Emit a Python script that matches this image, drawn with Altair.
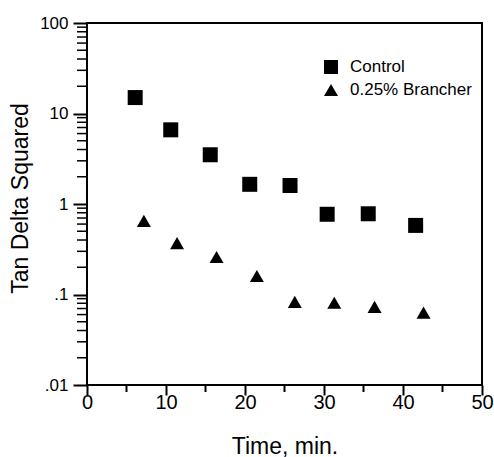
import altair as alt
import pandas as pd

# ---- data ----
series_names = ["Control", "0.25% Brancher"]
series_shapes = ["square", "triangle-up"]
control_time = [6.1, 10.6, 15.6, 20.6, 25.7, 30.4, 35.6, 41.6]
control_val = [15.0, 6.6, 3.5, 1.65, 1.6, 0.77, 0.78, 0.58]
branch_time = [7.2, 11.4, 16.4, 21.5, 26.3, 31.3, 36.4, 42.6]
branch_val = [0.65, 0.37, 0.26, 0.16, 0.083, 0.081, 0.073, 0.063]

x_major = [0, 10, 20, 30, 40, 50]
x_minor = [5, 15, 25, 35, 45]
y_major = [0.01, 0.1, 1, 10, 100]
y_minor = [k * 10.0 ** e for e in (-2, -1, 0, 1) for k in range(2, 10)]

labels = [series_names[0]] * len(control_time) + [series_names[1]] * len(branch_time)
df = pd.DataFrame({
    "time": control_time + branch_time,
    "value": control_val + branch_val,
    "series": labels,
    "marker": labels,
})

FONT = "Liberation Sans"
W, H = 395, 362
xscale = alt.Scale(domain=[0, 50], nice=False, zero=False)
yscale = alt.Scale(type="log", domain=[0.01, 100], nice=False)
shape_scale = alt.Scale(domain=series_names, range=series_shapes)
label_expr_y = "datum.value >= 1 ? format(datum.value, 'd') : (datum.value >= 0.1 ? '.1' : '.01')"

xaxis = alt.Axis(values=x_major, tickSize=10, tickWidth=2, tickColor="black",
                 labelFont=FONT, labelFontSize=20, labelColor="black", labelPadding=-3,
                 labelFlush=False, grid=False, domain=False,
                 title="Time, min.", titleFont=FONT, titleFontSize=23,
                 titleFontWeight="normal", titleColor="black", titlePadding=23)
yaxis = alt.Axis(values=y_major, tickSize=14, tickWidth=2, tickColor="black",
                 labelExpr=label_expr_y, labelFont=FONT, labelFontSize=17,
                 labelColor="black", labelPadding=5, labelFlush=False,
                 grid=False, domain=False,
                 title="Tan Delta Squared", titleFont=FONT, titleFontSize=23,
                 titleFontWeight="normal", titleColor="black", titlePadding=7,
                 titleY=175)

points = alt.Chart(df).mark_point(filled=True, color="black", opacity=1).encode(
    x=alt.X("time:Q", scale=xscale, axis=xaxis),
    y=alt.Y("value:Q", scale=yscale, axis=yaxis),
    shape=alt.Shape("series:N", scale=shape_scale, legend=None),
    size=alt.Size("marker:N", scale=alt.Scale(domain=series_names, range=[225, 196]), legend=None),
)

# minor ticks (outward), drawn through the shared scales
xminor_df = pd.DataFrame({"time": x_minor})
yminor_df = pd.DataFrame({"value": y_minor})
xminor = alt.Chart(xminor_df).mark_rule(color="black", strokeWidth=2).encode(
    x=alt.X("time:Q", scale=xscale, axis=xaxis),
    y=alt.value(H), y2=alt.value(H + 7),
)
yminor = alt.Chart(yminor_df).mark_rule(color="black", strokeWidth=1.5).encode(
    y=alt.Y("value:Q", scale=yscale, axis=yaxis),
    x=alt.value(0), x2=alt.value(-10),
)

# legend, built from the series lists
legend_layers = []
for i, (name, shp) in enumerate(zip(series_names, series_shapes)):
    ldf = pd.DataFrame({"series": [name]})
    legend_layers.append(
        alt.Chart(ldf).mark_point(filled=True, color="black", opacity=1, shape=shp, size=196).encode(
            x=alt.value(244), y=alt.value(44 + 23 * i))
    )
    legend_layers.append(
        alt.Chart(ldf).mark_text(align="left", baseline="middle", font=FONT, fontSize=17,
                                 color="black").encode(
            x=alt.value(263), y=alt.value(44 + 23 * i), text="series:N")
    )

chart = alt.layer(points, xminor, yminor, *legend_layers).properties(
    width=W, height=H,
    autosize=alt.AutoSizeParams(type="none"),
    padding={"left": 87, "top": 23, "right": 12, "bottom": 72},
    background="white",
).configure_view(stroke="black", strokeWidth=2)

chart.save("out.html", embed_options={"renderer": "svg", "actions": False})
